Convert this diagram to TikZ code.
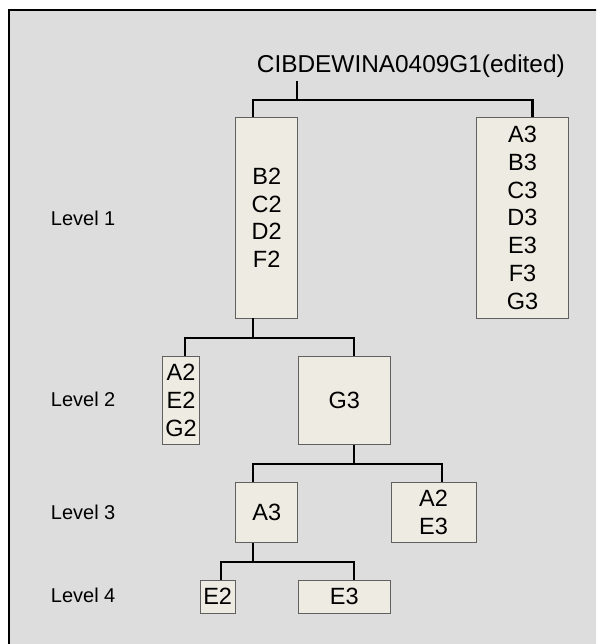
\documentclass[tikz,border=0pt]{standalone}
\usepackage{fontspec}
\setmainfont{Liberation Sans}
\definecolor{bgcol}{HTML}{DCDDDC}
\definecolor{boxfill}{HTML}{EEECE2}
\definecolor{boxline}{HTML}{606060}
\tikzset{
  frame/.style={draw=black, line width=2.5pt, fill=bgcol},
  box/.style={draw=boxline, fill=boxfill, line width=0.9pt, inner sep=0pt, align=center,
              font=\fontsize{23.5}{27.8}\selectfont},
  conn/.style={draw=black, line width=2.2pt},
  lvl/.style={anchor=base west, inner sep=0pt, font=\fontsize{20}{24}\selectfont},
  roottext/.style={anchor=base west, inner sep=0pt, font=\fontsize{24.4}{29}\selectfont}
}
\begin{document}
\begin{tikzpicture}[x=1pt,y=-1pt]
\useasboundingbox (0,0) rectangle (596,644);
\clip (0,0) rectangle (596,644);
\fill[white] (0,0) rectangle (596,644);
\draw[frame] (9,10) rectangle (620,670);

% root
\node[roottext] (root) at (256.7,72.3) {CIBDEWINA0409G1(edited)};
\coordinate (rs) at (297.3,81);

% level labels
\node[lvl] (lv1) at (50.7,225) {Level 1};
\node[lvl] (lv2) at (50.7,406.7) {Level 2};
\node[lvl] (lv3) at (50.7,519) {Level 3};
\node[lvl] (lv4) at (50.7,602.7) {Level 4};

% boxes
\node[box, minimum width=62, minimum height=200.3] (L1a) at (266.7,217.85) {B2\\C2\\D2\\F2};
\node[box, minimum width=91.6, minimum height=200.3] (L1b) at (522.5,217.85) {A3\\B3\\C3\\D3\\E3\\F3\\G3};
\node[box, minimum width=37.4, minimum height=88.7] (L2a) at (181,400.35) {A2\\E2\\G2};
\node[box, minimum width=92, minimum height=88.7] (L2b) at (344.3,400.35) {G3};
\node[box, minimum width=62, minimum height=59.6] (L3a) at (266.7,512.5) {A3};
\node[box, minimum width=85, minimum height=59.6] (L3b) at (433.5,512.5) {A2\\E3};
\node[box, minimum width=34.7, minimum height=32.7] (L4a) at (217.65,596.65) {E2};
\node[box, minimum width=92, minimum height=32.7] (L4b) at (344.3,596.65) {E3};

% junctions
\coordinate (j1) at (297.3,100);
\coordinate (x1a) at (252.7,0);
\coordinate (x1b) at (532.5,0);
\coordinate (j2) at (252.7,338.3);
\coordinate (x2a) at (185,0);
\coordinate (x2b) at (353.7,0);
\coordinate (j3) at (353.7,464.3);
\coordinate (x3a) at (252.7,0);
\coordinate (x3b) at (442,0);
\coordinate (j4) at (252.7,562.3);
\coordinate (x4a) at (220.7,0);
\coordinate (x4b) at (353.7,0);

% connectors
\draw[conn] (rs) -- (j1);
\draw[conn] (L1a.north -| x1a) |- (j1) -| (L1b.north -| x1b);
\draw[conn] (L1a.south -| j2) -- (j2);
\draw[conn] (L2a.north -| x2a) |- (j2) -| (L2b.north -| x2b);
\draw[conn] (L2b.south -| j3) -- (j3);
\draw[conn] (L3a.north -| x3a) |- (j3) -| (L3b.north -| x3b);
\draw[conn] (L3a.south -| j4) -- (j4);
\draw[conn] (L4a.north -| x4a) |- (j4) -| (L4b.north -| x4b);
\end{tikzpicture}
\end{document}
